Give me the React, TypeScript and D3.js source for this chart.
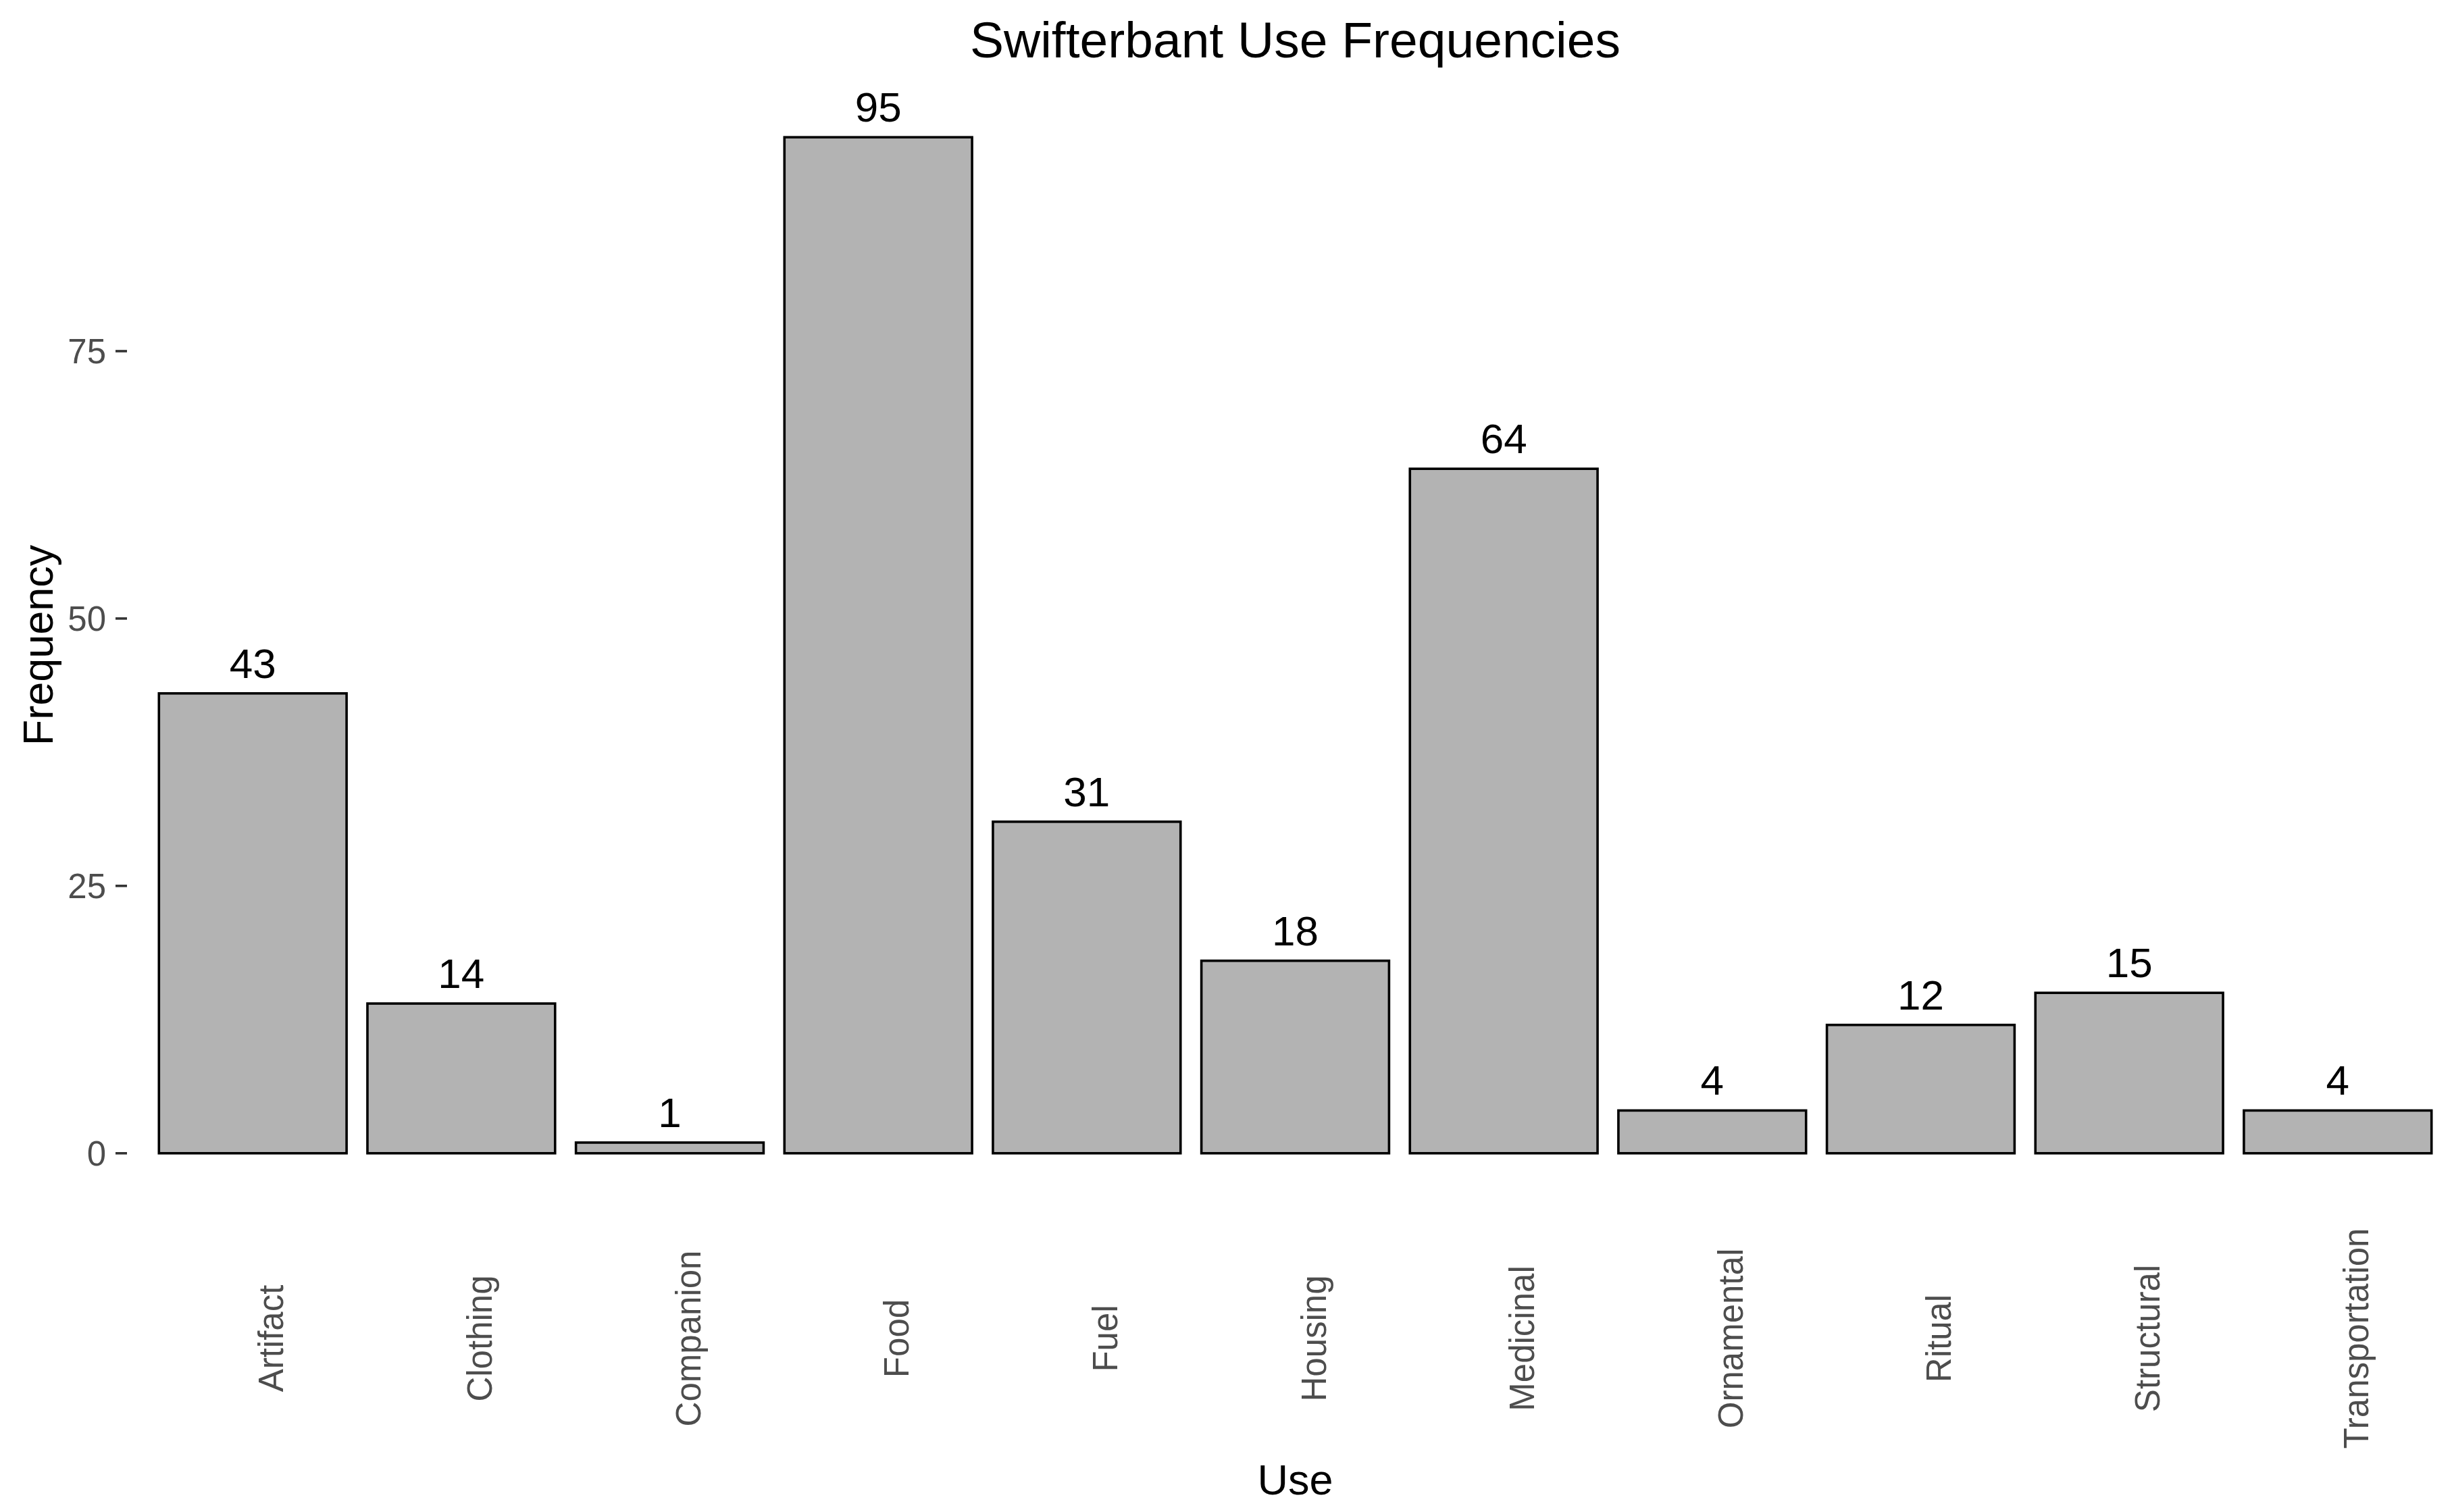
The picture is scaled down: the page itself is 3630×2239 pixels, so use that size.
import React from "react";
import * as d3 from "d3";

const categories = ["Artifact", "Clothing", "Companion", "Food", "Fuel", "Housing", "Medicinal", "Ornamental", "Ritual", "Structural", "Transportation"];
const frequencies = [43, 14, 1, 95, 31, 18, 64, 4, 12, 15, 4];
const yTicks = [0, 25, 50, 75];
const titleText = "Swifterbant Use Frequencies";
const xTitle = "Use";
const yTitle = "Frequency";

const W = 3630;
const H = 2239;
const FONT = "'Liberation Sans', Arial, sans-serif";

export default function App() {
  const panelLeft = 189;
  const panelRight = 3646;
  const panelTop = 128;
  const panelBottom = 1783;

  const x = d3.scaleBand<string>().domain(categories).range([panelLeft, panelRight]).paddingInner(0.1).paddingOuter(0.15);
  const maxV = d3.max(frequencies) as number;
  const pad = maxV * 0.05;
  const y = d3.scaleLinear().domain([-pad, maxV + pad]).range([panelBottom, panelTop]);

  const bw = x.bandwidth();

  return (
    <svg width={W} height={H} viewBox={`0 0 ${W} ${H}`} style={{ position: "absolute", left: 0, top: 0, background: "#fff" }}>
      <rect x={0} y={0} width={W} height={H} fill="#fff" />
      {/* title */}
      <text x={(panelLeft + panelRight) / 2} y={85} textAnchor="middle" fontFamily={FONT} fontSize={75} fill="#000">{titleText}</text>
      {/* bars */}
      {categories.map((c, i) => {
        const v = frequencies[i];
        const x0 = x(c) as number;
        return (
          <g key={c}>
            <rect x={x0} y={y(v)} width={bw} height={y(0) - y(v)} fill="#b3b3b3" stroke="#000" strokeWidth={3.6} />
            <text x={x0 + bw / 2} y={y(v) - 23} textAnchor="middle" fontFamily={FONT} fontSize={62} fill="#000">{v}</text>
            <text transform={`translate(${x0 + bw / 2 + 45},1982) rotate(-90)`} textAnchor="middle" fontFamily={FONT} fontSize={51} fill="#4d4d4d">{c}</text>
          </g>
        );
      })}
      {/* y axis ticks */}
      {yTicks.map((t) => (
        <g key={t}>
          <line x1={171} x2={188} y1={y(t)} y2={y(t)} stroke="#333" strokeWidth={3.6} />
          <text x={157} y={y(t) + 18} textAnchor="end" fontFamily={FONT} fontSize={51} fill="#4d4d4d">{t}</text>
        </g>
      ))}
      {/* axis titles */}
      <text x={(panelLeft + panelRight) / 2} y={2213} textAnchor="middle" fontFamily={FONT} fontSize={63} fill="#000">{xTitle}</text>
      <text transform={`translate(78,${(panelTop + panelBottom) / 2}) rotate(-90)`} textAnchor="middle" fontFamily={FONT} fontSize={63} fill="#000">{yTitle}</text>
    </svg>
  );
}
